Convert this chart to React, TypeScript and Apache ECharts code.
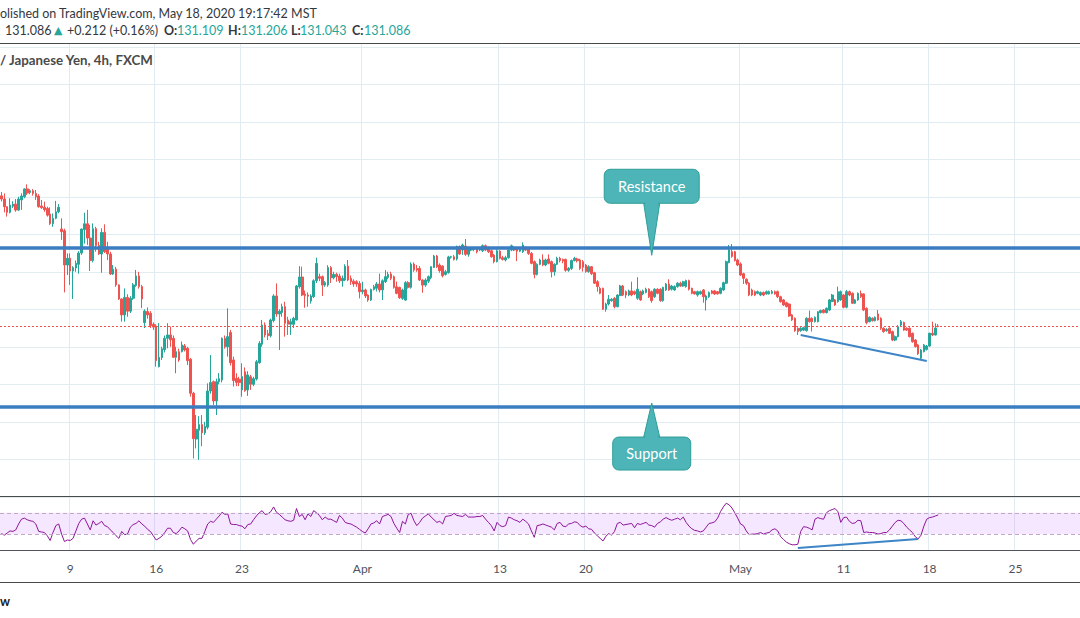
import React, { useEffect, useRef } from "react";
import * as echarts from "echarts";

// ---- time axis (4h bars, 6 per trading day) ----
const tradingDays = [
  "03-03", "03-04", "03-05", "03-06",
  "03-09", "03-10", "03-11", "03-12", "03-13",
  "03-16", "03-17", "03-18", "03-19", "03-20",
  "03-23", "03-24", "03-25", "03-26", "03-27",
  "03-30", "03-31",
  "04-01", "04-02", "04-03",
  "04-06", "04-07", "04-08", "04-09", "04-10",
  "04-13", "04-14", "04-15", "04-16", "04-17",
  "04-20", "04-21", "04-22", "04-23", "04-24",
  "04-27", "04-28", "04-29", "04-30",
  "05-01",
  "05-04", "05-05", "05-06", "05-07", "05-08",
  "05-11", "05-12", "05-13", "05-14", "05-15",
  "05-18", "05-19", "05-20", "05-21", "05-22",
  "05-25", "05-26", "05-27", "05-28", "05-29",
];
const sessionHours = ["00", "04", "08", "12", "16", "20"];
const visibleBars = 377;
const dayLabels: Record<string, string> = {
  "03-09": "9", "03-16": "16", "03-23": "23", "04-01": "Apr", "04-13": "13",
  "04-20": "20", "05-01": "May", "05-11": "11", "05-18": "18", "05-25": "25",
};

// ---- candles [open, close, low, high] ----
const candlesMarch = [
  [138.05,137.88,137.75,138.25],[137.88,137.47,137.17,138.18],[137.47,137.17,136.94,137.50],[137.17,137.56,137.11,137.92],
  [137.50,137.61,137.40,137.76],[137.61,137.29,137.20,137.88],[137.29,137.88,137.25,138.00],[137.83,138.04,137.30,138.18],
  [138.00,138.42,137.92,138.45],[138.42,138.20,138.10,138.66],[138.23,138.32,138.14,138.40],[138.32,138.18,138.06,138.41],
  [138.18,138.00,137.83,138.36],[138.04,137.47,137.42,138.14],[137.51,137.42,137.35,137.83],[137.44,137.31,137.20,137.74],
  [137.38,137.02,136.94,137.47],[137.08,136.56,136.50,137.44],[136.56,136.85,136.40,137.11],[136.85,137.20,136.80,137.78],
  [137.20,137.44,137.12,137.61],[136.28,136.14,135.70,136.85],[136.19,134.36,132.90,136.30],[134.36,134.72,133.83,134.98],
  [134.72,134.04,133.30,134.98],[134.04,134.22,132.55,134.30],[134.20,134.45,134.00,134.60],[134.40,135.00,133.90,135.10],
  [135.00,136.28,134.90,136.30],[136.25,136.56,135.50,137.15],[136.56,135.80,135.43,137.30],[135.80,134.60,134.04,136.50],
  [134.60,136.30,134.50,136.58],[136.30,135.40,135.07,136.40],[135.40,134.95,134.90,135.60],[134.95,136.10,133.95,136.32],
  [136.10,135.07,135.00,136.53],[135.30,134.95,134.62,135.60],[134.95,133.88,133.83,135.07],[133.88,134.14,133.83,134.36],
  [134.14,133.30,133.20,134.26],[133.30,132.55,132.50,133.33],[132.55,131.70,131.34,132.58],[131.70,132.63,131.34,133.11],
  [132.63,131.90,131.60,132.80],[131.90,132.59,131.80,132.70],[132.59,133.30,132.50,133.40],[133.27,133.78,133.20,134.10],
  [133.78,133.21,133.10,134.00],[133.21,132.55,132.06,133.30],[131.29,131.91,131.00,132.00],[131.88,131.70,131.50,132.10],
  [131.79,131.13,131.00,131.90],[131.20,131.05,130.90,131.30],[131.11,129.26,128.94,131.20],[128.94,129.44,128.90,131.26],
  [129.42,129.89,129.30,130.00],[129.85,130.45,129.70,130.60],[130.45,130.63,129.92,131.26],[130.63,130.37,130.00,131.08],
  [130.45,129.44,129.40,130.60],[129.44,129.74,128.59,130.00],[129.74,129.30,129.20,129.90],[129.74,130.10,129.70,130.28],
  [130.05,129.83,129.75,130.15],[129.92,129.26,129.03,130.00],[129.34,127.52,127.34,129.40],[127.52,125.10,124.05,127.60],
  [125.08,125.60,124.58,126.36],[125.55,125.85,123.97,126.30],[125.85,125.41,124.70,126.36],[125.41,125.75,125.30,126.00],
  [125.71,127.64,125.60,128.05],[127.64,128.09,127.50,129.56],[128.14,127.11,126.90,128.20],[127.11,128.14,126.36,128.30],
  [128.14,128.30,128.00,128.60],[128.23,130.45,128.10,130.50],[130.45,130.00,129.90,130.60],[130.00,130.54,129.48,132.05],
  [130.76,129.15,129.00,130.90],[129.30,128.20,127.88,129.48],[128.32,128.10,127.90,128.59],[128.27,128.09,127.90,128.40],
  [127.70,128.41,127.34,129.12],[128.67,127.66,127.60,128.90],[127.70,128.50,127.38,128.70],[128.40,128.00,127.70,128.50],
  [128.00,128.30,127.90,128.40],[128.28,129.20,128.20,129.30],[129.15,130.18,129.10,130.30],[130.13,131.16,130.00,131.43],
  [131.16,130.63,130.50,131.30],[130.70,130.59,130.36,130.90],[130.59,131.43,130.50,131.50],[131.40,132.71,131.30,132.80],
  [132.71,131.75,131.60,133.38],[131.75,131.90,129.83,132.00],[131.83,132.14,131.60,132.30],[132.14,131.25,130.54,132.40],
  [131.43,131.20,130.63,131.60],[131.20,131.34,130.63,131.50],[131.20,131.52,131.00,131.60],[131.43,133.24,131.40,133.30],
  [133.20,133.72,133.10,134.30],[133.72,132.76,132.70,134.27],[132.81,132.72,132.08,133.00],[132.76,132.70,132.14,132.90],
  [132.44,132.71,132.30,132.80],[132.67,133.52,132.60,133.60],[133.52,134.45,133.40,134.75],[133.74,133.65,133.50,133.90],
  [133.74,133.29,132.71,133.80],[133.29,133.42,133.20,133.50],[133.29,134.23,133.20,134.35],[134.23,133.68,133.40,134.30],
  [133.68,133.86,133.60,134.00],[133.86,133.74,133.47,133.95],[133.77,133.52,133.40,133.90],[133.52,133.65,133.20,133.80],
  [133.56,134.30,133.50,134.40],[134.30,133.56,133.50,134.63],[133.65,133.47,133.30,133.80],[133.50,133.35,133.20,133.60],
  [133.47,133.35,133.20,133.55],[133.38,132.94,132.58,133.50],
];
const candlesApril = [
  [132.94,133.03,132.80,133.47],[133.03,132.71,132.60,133.10],[132.76,132.49,132.40,132.80],[132.49,133.06,132.44,133.10],
  [133.06,133.20,133.00,133.30],[133.12,133.35,132.95,133.45],[133.35,133.03,132.90,133.90],[133.03,133.52,132.49,133.60],
  [133.47,133.74,133.40,134.09],[133.70,133.86,133.60,134.00],[133.88,133.65,133.55,134.00],[133.74,133.17,133.10,133.80],
  [133.20,132.85,132.80,133.47],[133.17,132.62,132.55,133.20],[132.58,133.03,132.50,133.10],[132.49,133.42,132.45,133.50],
  [133.42,133.17,133.10,133.50],[133.17,134.41,133.10,134.50],[134.41,134.09,134.00,134.50],[134.18,134.09,134.00,134.36],
  [134.18,133.56,133.50,134.30],[133.56,133.29,132.88,133.60],[133.29,133.56,133.20,133.65],[133.50,133.74,133.40,133.80],
  [133.68,134.27,133.60,134.30],[134.23,134.84,134.20,134.90],[134.84,134.27,134.20,134.90],[134.36,134.06,133.95,134.45],
  [134.30,133.79,133.70,134.35],[133.86,134.00,133.80,134.10],[133.95,134.79,133.90,134.85],[134.78,134.80,134.70,134.85],
  [134.80,134.66,134.60,134.90],[134.68,135.34,134.60,135.40],[135.34,134.95,134.90,135.40],[135.16,135.43,134.90,135.50],
  [135.37,134.93,134.85,135.75],[134.93,135.25,134.80,135.30],[135.16,135.25,135.10,135.30],[135.20,135.25,135.10,135.30],
  [135.25,135.07,134.98,135.30],[135.16,135.25,135.10,135.30],
  [135.12,135.39,135.05,135.46],[135.39,135.16,135.10,135.45],[135.28,135.07,135.00,135.35],[135.12,134.80,134.75,135.20],
  [134.89,134.54,134.45,134.95],[134.54,135.12,134.50,135.20],[135.10,134.72,134.66,135.15],[134.75,134.66,134.60,134.85],
  [134.63,134.75,134.55,134.85],[134.75,135.16,134.70,135.20],[135.16,135.39,135.10,135.45],[135.28,135.16,135.10,135.35],
  [135.25,135.10,134.57,135.30],[135.10,135.25,135.05,135.30],[135.07,135.43,135.00,135.57],[135.28,135.16,135.10,135.35],
  [135.28,134.98,134.90,135.30],[134.98,134.45,134.40,135.05],[134.54,133.86,133.65,134.60],[133.86,134.40,133.80,134.45],
  [134.40,134.63,134.35,134.70],[134.63,134.36,134.30,134.93],[134.36,134.63,134.30,134.70],[134.68,134.45,134.40,134.93],
  [134.54,134.00,133.70,134.60],[134.00,134.40,133.79,134.45],[134.40,134.72,134.35,134.80],[134.72,134.59,134.50,134.80],
  [134.66,134.57,134.45,134.70],[134.66,134.08,134.00,134.70],[134.08,134.18,134.00,134.25],[134.18,134.60,134.10,134.65],
  [134.60,134.72,134.55,134.80],[134.68,134.59,134.50,134.75],[134.63,134.18,134.10,134.70],
  [134.54,134.24,134.01,134.63],[134.36,134.01,133.95,134.42],[134.01,134.27,133.95,134.35],[134.27,133.90,133.83,134.30],
  [133.95,133.39,133.35,134.00],[133.47,133.21,132.94,133.55],[133.12,132.85,132.80,133.20],[133.12,132.00,131.96,133.15],
  [132.00,132.28,131.87,132.35],[132.28,132.53,132.20,132.76],[132.46,132.53,132.40,132.60],[132.59,132.14,132.05,132.65],
  [132.14,132.76,132.10,132.80],[132.73,133.24,132.70,133.30],[133.24,132.76,132.70,133.30],[132.94,132.76,132.59,133.00],
  [132.76,132.98,132.70,133.05],[132.98,132.76,132.70,133.47],[132.94,132.82,132.75,133.00],[132.59,133.07,132.50,133.71],
  [132.94,132.50,132.45,133.00],[132.82,132.98,132.75,133.05],[132.90,133.07,132.85,133.15],[133.07,132.67,132.60,133.12],
  [132.94,132.46,132.35,133.00],[132.67,133.07,132.60,133.12],[133.07,132.85,132.80,133.12],[133.07,132.46,132.40,133.12],
  [132.46,133.17,132.40,133.20],[133.03,133.35,132.98,133.40],[133.35,133.03,132.98,133.60],[133.07,133.24,133.00,133.30],
  [133.03,133.21,132.98,133.28],[133.21,133.39,133.15,133.45],[133.39,133.24,133.20,133.47],[133.24,133.47,133.20,133.52],
  [133.21,133.53,133.15,133.58],[133.53,133.07,133.00,133.58],[133.12,132.85,132.80,133.15],[132.94,132.82,132.78,132.98],
  [132.76,132.94,132.67,133.00],[132.82,132.94,132.78,133.00],[133.03,132.67,132.35,133.08],[132.50,132.71,131.93,132.78],
  [132.67,132.89,132.60,132.95],[132.98,132.85,132.80,133.03],[132.98,132.82,132.76,133.03],[132.94,132.82,132.78,132.98],
  [132.85,133.12,132.80,133.17],[133.03,133.42,132.98,133.47],[133.39,134.54,133.35,134.60],[134.49,135.16,134.45,135.43],
  [135.07,134.81,134.75,135.48],[135.07,134.60,134.55,135.12],[134.63,134.36,134.30,134.70],
];
const candlesMay = [
  [134.42,133.83,133.78,134.50],[133.90,133.65,133.35,133.95],[133.60,133.39,133.30,133.65],[133.39,132.76,132.70,133.45],
  [133.03,132.76,132.70,133.10],[132.94,132.76,132.70,133.00],[132.85,132.94,132.80,133.00],[132.76,132.89,132.70,132.95],
  [132.89,132.76,132.70,132.95],[132.82,132.94,132.78,133.00],[132.82,132.94,132.78,133.00],[132.85,132.94,132.80,133.03],
  [132.94,132.82,132.78,133.00],[132.94,132.67,132.60,133.00],[132.67,132.41,132.35,132.72],[132.50,132.23,132.18,132.55],
  [132.35,132.14,132.10,132.40],[132.28,131.64,131.60,132.32],[131.70,131.43,131.38,131.75],[131.52,130.86,130.80,131.57],
  [130.99,130.81,130.63,131.04],[130.86,130.99,130.80,131.04],[130.89,131.02,130.84,131.07],[130.86,131.52,130.81,131.57],
  [131.52,131.34,131.29,131.93],[131.52,131.34,130.81,131.57],[131.34,131.57,131.30,131.62],[131.34,131.87,131.30,131.90],
  [131.82,131.93,131.78,131.98],[131.96,131.82,131.78,132.00],[131.82,132.05,131.78,132.10],[131.96,132.50,131.90,132.55],
  [132.41,132.76,132.38,132.82],[132.50,132.23,132.18,132.55],[132.41,132.94,132.35,133.21],[132.50,132.94,132.45,133.00],
  [132.76,132.11,132.05,132.80],[132.11,132.94,132.05,133.03],[132.94,132.76,132.70,133.00],[132.85,132.32,132.28,132.90],
  [132.32,132.50,132.28,132.55],[132.50,132.85,132.45,132.90],[132.85,132.67,132.60,133.00],[132.82,131.96,131.90,132.85],
  [132.05,131.29,131.20,132.10],[131.34,131.57,131.30,131.62],[131.52,131.39,131.35,131.57],[131.39,131.57,131.35,131.62],
  [131.75,131.43,131.40,131.96],[131.52,130.99,130.90,131.57],[130.99,130.81,130.75,131.04],[130.86,130.93,130.80,130.99],
  [130.99,130.72,130.68,131.04],[130.81,130.36,130.30,130.86],[130.36,130.54,130.30,130.60],[130.54,131.07,130.50,131.16],
  [131.16,131.34,131.10,131.43],[131.29,130.89,130.85,131.34],[130.99,130.89,130.85,131.04],[130.99,130.54,130.50,131.04],
  [130.72,130.27,130.22,130.76],[130.36,130.01,129.96,130.40],[130.10,129.62,129.57,130.15],[129.39,129.83,129.30,129.88],
  [129.74,130.10,129.70,130.15],[129.86,130.04,129.80,130.10],[130.04,130.72,130.00,130.76],[130.72,130.63,130.58,131.34],
  [130.63,131.00,130.60,131.25],[131.109,131.086,131.043,131.206],
];

// ---- RSI (14) values read per bar ----
const rsiMarch = [
  31,28,32,36,35,38,49,58,60,57, 55,54,49,35,34,33,27,18,33,46,
  49,30,16,19,18,22,36,50,58,60, 49,38,55,47,50,54,46,44,38,33,
  27,22,35,29,30,43,48,50,55,49, 45,39,35,27,19,22,26,33,41,41,
  33,31,36,43,40,36,20,11,17,22, 22,35,49,54,52,58,64,71,67,68,
  49,48,48,46,45,40,48,49,57,64, 70,74,67,68,72,81,71,67,62,57,
  55,54,56,78,63,67,57,68,63,74, 70,65,57,62,58,58,55,52,65,60,
  52,50,49,46,43,39,
];
const rsiApril = [
  35,32,40,49,
  51,55,49,63,65,67,63,50,41,33, 54,49,67,69,55,46,52,60,64,68,
  62,57,52,54,49,63,64,65,69,65, 64,63,67,62,62,62,63,63,65,58,
  52,46,36,52,46,44,46,62,60,57, 55,52,58,54,49,36,24,46,47,49,
  47,45,43,38,50,52,45,44,49,50, 53,52,46,43,45,40,39,32,27,22,
  17,26,31,28,35,50,52,47,48,49, 50,42,50,48,50,52,47,46,43,50,
  53,58,61,58,56,58,60,57,62,52, 45,40,37,36,34,36,43,50,51,53,
  60,72,81,88,85,79,70,60,
];
const rsiMay = [
  49,46,
  36,29,30,30,31,33,30,32,33,38, 40,36,25,20,15,12,10,10,11,35,
  44,43,41,38,58,61,59,58,70,74, 76,78,72,52,61,62,54,50,51,56,
  55,33,34,33,33,32,30,31,33,33, 38,45,52,56,55,50,43,38,33,25,
  21,28,45,58,61,62,64,66,
];

// ---- levels and annotations (data space) ----
const resistanceLevel = 135.27;
const supportLevel = 126.8;
const lastPrice = 131.086;
const priceDivergence = [[279, 130.63], [323, 129.24]];
const rsiDivergence = [[278, 4], [320, 21]];
const rsiBands = [30, 70];
const calloutBar = 227;
const resistanceTip = 134.88;
const supportTip = 127.0;

const FONT = "Lato, 'Noto Sans', 'DejaVu Sans', sans-serif";

export default function App() {
  const ref = useRef<HTMLDivElement>(null);

  useEffect(() => {
    const el = ref.current;
    if (!el) return;
    const chart = echarts.init(el, null, { renderer: "svg" });

    const categories = tradingDays
      .flatMap((d) => sessionHours.map((h) => `2020-${d} ${h}:00`))
      .slice(0, visibleBars);
    const candles = [...candlesMarch, ...candlesApril, ...candlesMay];
    const rsi = [...rsiMarch, ...rsiApril, ...rsiMay];
    const labelIdx = new Map<number, string>();
    tradingDays.forEach((d, i) => {
      if (dayLabels[d] && i * 6 < visibleBars) labelIdx.set(i * 6, dayLabels[d]);
    });
    const showTick = (i: number) => labelIdx.has(i);
    const gridColor = "#e1ecf2";
    const up = "#26a69a";
    const down = "#ef5350";

    const option: any = {
      animation: false,
      backgroundColor: "#ffffff",
      grid: [
        { left: -2, right: 0, top: 43, height: 453.8 },
        { left: -2, right: 0, top: 496.8, height: 53.3 },
      ],
      xAxis: [
        {
          type: "category", gridIndex: 0, data: categories, boundaryGap: true,
          axisLine: { show: false }, axisTick: { show: false }, axisLabel: { show: false },
          splitLine: { show: true, interval: (i: number) => showTick(i), lineStyle: { color: gridColor, width: 1 } },
        },
        {
          type: "category", gridIndex: 1, data: categories, boundaryGap: true, position: "bottom", offset: 2,
          axisLine: { show: true, lineStyle: { color: "#50535e", width: 1 } },
          axisTick: { show: false },
          axisLabel: {
            interval: (i: number) => showTick(i),
            formatter: (_v: string, i: number) => labelIdx.get(i) ?? "",
            color: "#50535e", fontSize: 12, margin: 10, fontFamily: FONT,
          },
          splitLine: { show: true, interval: (i: number) => showTick(i), lineStyle: { color: gridColor, width: 1 } },
        },
      ],
      yAxis: [
        {
          type: "value", gridIndex: 0, min: 122, max: 146.2, interval: 2, scale: false,
          axisLine: { show: false }, axisTick: { show: false }, axisLabel: { show: false },
          splitLine: { show: true, lineStyle: { color: gridColor, width: 1 } },
        },
        {
          type: "value", gridIndex: 1, min: 0, max: 100, interval: 100,
          axisLine: { show: false }, axisTick: { show: false }, axisLabel: { show: false },
          splitLine: { show: true, lineStyle: { color: gridColor, width: 1 } },
        },
      ],
      series: [
        {
          type: "candlestick", name: "GBPJPY", xAxisIndex: 0, yAxisIndex: 0, data: candles,
          barWidth: 2.1,
          itemStyle: { color: up, color0: down, borderColor: up, borderColor0: down, borderWidth: 1 },
          markLine: {
            silent: true, symbol: ["none", "none"], label: { show: false }, animation: false,
            data: [
              { yAxis: lastPrice, lineStyle: { color: down, type: [2, 2], width: 1 } },
              { yAxis: resistanceLevel, lineStyle: { color: "#3b7dc1", type: "solid", width: 3.5 } },
              { yAxis: supportLevel, lineStyle: { color: "#3b7dc1", type: "solid", width: 3.5 } },
              [
                { coord: priceDivergence[0], lineStyle: { color: "#3d85c6", type: "solid", width: 2 } },
                { coord: priceDivergence[1] },
              ],
            ],
          },
        },
        {
          type: "line", name: "RSI", xAxisIndex: 1, yAxisIndex: 1, data: rsi,
          symbol: "none", showSymbol: false,
          lineStyle: { color: "#8e1599", width: 1 },
          markArea: {
            silent: true,
            itemStyle: { color: "rgba(153,21,255,0.1)" },
            data: [[{ yAxis: rsiBands[0] }, { yAxis: rsiBands[1] }]],
          },
          markLine: {
            silent: true, symbol: ["none", "none"], label: { show: false }, animation: false,
            data: [
              { yAxis: rsiBands[0], lineStyle: { color: "#c0a8c8", type: [4, 3], width: 1 } },
              { yAxis: rsiBands[1], lineStyle: { color: "#c0a8c8", type: [4, 3], width: 1 } },
              [
                { coord: rsiDivergence[0], lineStyle: { color: "#3d85c6", type: "solid", width: 2 } },
                { coord: rsiDivergence[1] },
              ],
            ],
          },
        },
      ],
    };
    chart.setOption(option);

    const txt = (text: string, x: number, y: number, fill: string, font: string, align = "left") => ({
      type: "text", x, y, z: 100,
      style: { text, fill, font, align, textAlign: align, verticalAlign: "middle", textVerticalAlign: "middle" },
    });
    const hline = (y: number, color: string) => ({
      type: "line", z: 90, shape: { x1: 0, y1: y, x2: 1080, y2: y }, style: { stroke: color, lineWidth: 1 },
    });

    const norm = `12.5px ${FONT}`;
    const bold = `bold 12.5px ${FONT}`;
    const teal = "#26a69a";
    const dark = "#333840";

    const [rtx, rty] = chart.convertToPixel({ seriesIndex: 0 }, [calloutBar, resistanceTip]) as number[];
    const [stx, sty] = chart.convertToPixel({ seriesIndex: 0 }, [calloutBar, supportTip]) as number[];
    const calloutFill = "#4db4b8";
    const calloutStroke = "#2e9e98";

    const callout = (tx: number, ty: number, w: number, h: number, above: boolean, label: string) => {
      const bx = tx - w / 2;
      const by = above ? ty - 86 : ty + 34;
      const baseY = above ? by + h : by;
      return [
        {
          type: "polygon", z: 110,
          shape: { points: [[tx - 8, baseY], [tx + 8, baseY], [tx, ty]] },
          style: { fill: calloutFill, stroke: calloutStroke, lineWidth: 1 },
        },
        {
          type: "rect", z: 111,
          shape: { x: bx, y: by, width: w, height: h, r: 6 },
          style: { fill: calloutFill, stroke: calloutStroke, lineWidth: 1 },
        },
        {
          type: "polygon", z: 112,
          shape: { points: above
            ? [[tx - 7, baseY - 2], [tx + 7, baseY - 2], [tx + 6.2, baseY + 2], [tx - 6.2, baseY + 2]]
            : [[tx - 6.2, baseY - 2], [tx + 6.2, baseY - 2], [tx + 7, baseY + 2], [tx - 7, baseY + 2]] },
          style: { fill: calloutFill },
        },
        {
          type: "text", z: 113, x: tx, y: by + h / 2,
          style: { text: label, fill: "#ffffff", font: `14.5px ${FONT}`, align: "center", textAlign: "center", verticalAlign: "middle", textVerticalAlign: "middle" },
        },
      ];
    };

    chart.setOption({
      graphic: [
        { type: "rect", z: 80, shape: { x: 0, y: 0, width: 1080, height: 43 }, style: { fill: "#ffffff" } },
        hline(43.5, "#4a4a4a"),
        hline(496.5, "#4a4a4a"),
        hline(582.5, "#4a4a4a"),
        txt("olished on TradingView.com, May 18, 2020 19:17:42 MST", 0, 13, dark, norm),
        txt("131.086", 5, 30, dark, norm),
        txt("▲", 54, 30, teal, `11px 'DejaVu Sans', sans-serif`),
        txt("+0.212 (+0.16%)", 67, 30, dark, norm),
        txt("O:", 164, 30, dark, bold),
        txt("131.109", 177, 30, teal, norm),
        txt("H:", 228, 30, dark, bold),
        txt("131.206", 241, 30, teal, norm),
        txt("L:", 291, 30, dark, bold),
        txt("131.043", 300, 30, teal, norm),
        txt("C:", 352, 30, dark, bold),
        txt("131.086", 364, 30, teal, norm),
        txt("/ Japanese Yen, 4h, FXCM", 0, 60, "#4a4a4a", `bold 13.3px ${FONT}`),
        txt("w", 0, 601, "#222222", bold),
        ...callout(rtx, rty, 95, 34, true, "Resistance"),
        ...callout(stx, sty, 78, 33, false, "Support"),
      ],
    });

    return () => chart.dispose();
  }, []);

  return <div ref={ref} style={{ position: "absolute", left: 0, top: 0, width: 1080, height: 618 }} />;
}
